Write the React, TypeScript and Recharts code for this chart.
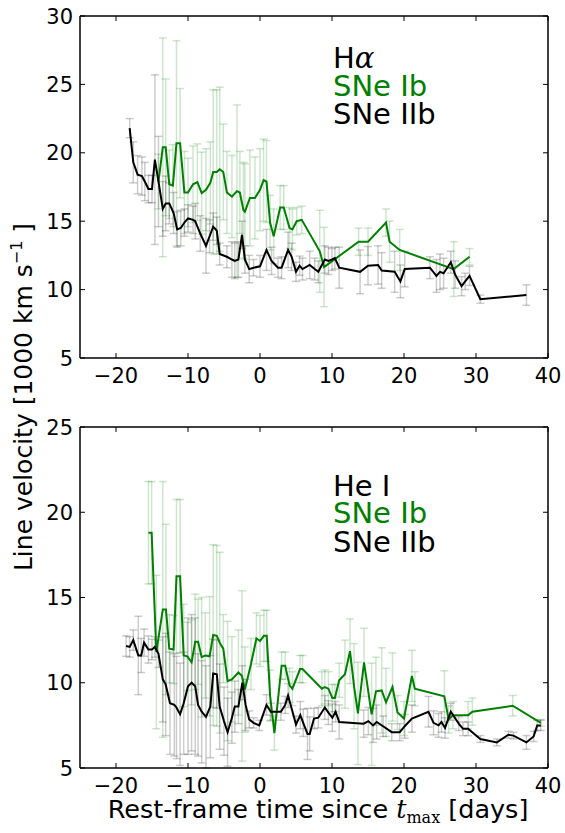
import { LineChart, Line, XAxis, YAxis, ErrorBar } from "recharts";

// [day, velocity (1000 km/s), error]
type Pt = [number, number, number];

const xTicks = [-20, -10, 0, 10, 20, 30, 40];
const haTicks = [5, 10, 15, 20, 25, 30];
const heTicks = [5, 10, 15, 20, 25];

const GREEN = "#008000";

const haIIb: Pt[] = [
  [-18.1, 21.8, 0.7], [-17.6, 19.3, 1.5], [-17.0, 18.4, 1.4], [-16.4, 18.3, 1.4], [-16.0, 17.9, 1.4],
  [-15.5, 17.35, 1.0], [-15.0, 17.35, 1.0], [-14.6, 19.5, 6.2], [-14.1, 17.9, 3.3], [-13.5, 15.9, 2.0],
  [-13.1, 16.3, 2.0], [-12.6, 16.3, 1.5], [-12.0, 15.6, 1.5], [-11.5, 14.4, 1.3], [-11.0, 14.5, 1.3],
  [-10.5, 14.9, 1.0], [-10.0, 15.2, 1.0], [-9.3, 15.1, 1.0], [-9.0, 15.0, 1.3], [-8.3, 14.1, 1.3],
  [-7.5, 13.2, 2.0], [-7.0, 13.9, 1.2], [-6.5, 14.6, 1.0], [-6.0, 14.3, 1.0], [-5.6, 12.6, 0.8],
  [-4.6, 12.4, 0.8], [-3.9, 12.2, 1.3], [-3.5, 12.1, 1.3], [-3.0, 12.2, 1.3], [-2.5, 14.0, 1.0],
  [-2.1, 12.2, 1.0], [-1.5, 11.5, 1.0], [-0.9, 11.6, 0.6], [0.0, 11.7, 0.8], [0.9, 12.9, 1.5],
  [1.6, 12.1, 1.0], [2.5, 11.6, 0.7], [3.0, 11.6, 0.8], [3.9, 12.9, 1.3], [4.4, 12.4, 1.0],
  [5.0, 11.3, 0.7], [5.5, 11.75, 0.7], [5.9, 11.5, 0.8], [6.9, 11.8, 1.0], [7.6, 11.5, 0.8],
  [8.1, 11.3, 0.8], [9.0, 12.2, 1.0], [9.5, 12.1, 1.0], [10.0, 12.2, 0.8], [10.4, 12.3, 0.8],
  [11.0, 11.6, 1.5], [13.9, 11.3, 1.6], [15.0, 11.75, 1.4], [16.4, 11.8, 1.4], [16.9, 11.4, 1.3],
  [18.7, 11.3, 1.5], [19.5, 10.6, 1.2], [20.1, 11.5, 1.3], [23.6, 11.6, 0.8], [24.5, 11.0, 1.2],
  [25.0, 11.3, 1.3], [25.5, 11.2, 1.1], [26.5, 12.0, 0.8], [27.1, 11.1, 1.0], [28.0, 10.25, 0.7],
  [28.5, 10.6, 0.6], [29.1, 11.0, 0.7], [30.6, 9.3, 0.3], [37.0, 9.6, 0.75],
];

const haIb: Pt[] = [
  [-14.1, 17.9, 2.0], [-13.5, 20.4, 8.0], [-13.1, 20.4, 5.0], [-12.6, 17.7, 2.5], [-12.1, 17.6, 3.0],
  [-11.6, 20.7, 7.5], [-11.1, 20.7, 4.0], [-10.5, 17.1, 3.0], [-10.0, 17.1, 2.5], [-9.3, 17.7, 2.8],
  [-8.7, 17.85, 2.8], [-8.1, 17.05, 3.0], [-7.5, 17.3, 3.0], [-6.9, 17.8, 3.0], [-6.5, 18.6, 6.0],
  [-6.0, 18.6, 6.0], [-5.6, 18.8, 6.0], [-5.1, 18.6, 3.5], [-4.6, 17.1, 3.0], [-3.9, 16.8, 3.0],
  [-3.2, 17.2, 6.3], [-2.8, 17.1, 3.0], [-2.3, 15.8, 3.5], [-2.1, 15.7, 3.5], [-1.4, 16.7, 3.5],
  [-0.7, 16.7, 3.0], [0.0, 17.3, 3.0], [0.5, 18.0, 3.0], [0.9, 17.9, 3.0], [1.4, 14.9, 2.0],
  [1.9, 13.9, 2.0], [2.8, 16.0, 1.6], [3.3, 16.0, 1.6], [4.1, 14.5, 1.5], [4.5, 14.4, 1.5],
  [5.1, 15.0, 1.0], [5.8, 15.1, 1.0], [8.3, 12.8, 3.0], [8.9, 11.65, 2.9], [13.7, 13.5, 1.0],
  [15.0, 13.5, 1.0], [17.5, 14.9, 1.0], [18.0, 13.5, 1.5], [19.4, 12.9, 1.5], [26.9, 11.5, 2.0],
  [29.1, 12.4, 0.6],
];

const heIIb: Pt[] = [
  [-18.6, 12.15, 0.6], [-18.1, 12.1, 0.6], [-17.6, 12.5, 0.6], [-16.9, 11.6, 2.3], [-16.5, 11.6, 1.0],
  [-16.1, 12.35, 0.8], [-15.5, 11.95, 0.8], [-15.0, 11.95, 0.6], [-14.6, 12.1, 0.6], [-14.1, 11.7, 0.8],
  [-13.5, 10.2, 2.5], [-13.1, 9.9, 3.0], [-12.5, 8.8, 3.0], [-11.9, 8.7, 3.0], [-11.6, 8.55, 3.0],
  [-11.1, 8.15, 3.0], [-10.6, 8.8, 3.0], [-10.0, 9.8, 4.0], [-9.5, 10.0, 4.0], [-9.0, 9.8, 4.0],
  [-8.6, 8.7, 3.0], [-8.1, 8.3, 3.0], [-7.5, 8.0, 3.0], [-6.9, 8.6, 3.0], [-6.5, 10.55, 2.0],
  [-6.0, 10.5, 2.0], [-5.6, 8.6, 2.5], [-5.0, 7.75, 2.0], [-4.5, 7.1, 2.0], [-3.9, 7.95, 1.5],
  [-3.5, 8.6, 1.5], [-3.0, 8.6, 1.0], [-2.45, 10.0, 1.0], [-2.0, 8.7, 1.5], [-1.5, 7.85, 0.5],
  [-0.9, 7.65, 0.3], [-0.1, 7.5, 0.3], [0.9, 8.7, 0.6], [1.5, 8.3, 0.5], [2.9, 8.3, 0.5],
  [3.5, 8.7, 0.5], [3.9, 9.25, 0.7], [5.0, 7.55, 0.5], [5.6, 8.1, 0.8], [6.0, 7.65, 0.8],
  [6.6, 7.0, 1.5], [6.9, 7.0, 1.0], [7.5, 7.9, 0.6], [8.1, 7.95, 0.6], [9.0, 8.55, 0.7],
  [9.5, 8.25, 0.7], [10.05, 7.95, 0.8], [10.5, 8.3, 0.6], [11.0, 7.7, 1.0], [14.4, 7.6, 0.8],
  [15.05, 7.75, 0.8], [15.7, 7.5, 1.0], [16.2, 7.7, 1.0], [17.1, 7.45, 0.6], [18.3, 7.1, 0.5],
  [19.4, 7.1, 0.5], [20.1, 7.45, 0.7], [21.1, 7.9, 0.8], [23.4, 8.3, 0.9], [24.1, 7.65, 0.7],
  [24.8, 7.5, 0.7], [25.2, 7.7, 0.6], [25.7, 7.35, 0.6], [26.5, 8.3, 0.5], [27.6, 7.6, 0.4],
  [28.2, 7.3, 0.4], [28.9, 7.3, 0.4], [30.6, 6.7, 0.2], [32.9, 6.5, 0.2], [34.5, 6.95, 0.2],
  [35.2, 6.9, 0.2], [37.0, 6.5, 0.4], [38.0, 6.85, 0.3], [38.5, 7.5, 0.3], [39.0, 7.5, 0.3],
];

const heIb: Pt[] = [
  [-15.5, 18.8, 3.0], [-15.05, 18.8, 3.0], [-14.4, 11.8, 4.5], [-13.5, 14.3, 7.5], [-13.06, 14.3, 5.0],
  [-12.6, 12.0, 2.0], [-12.0, 11.95, 2.0], [-11.6, 16.25, 4.5], [-11.1, 16.25, 4.5], [-10.6, 11.6, 3.0],
  [-10.1, 11.55, 2.0], [-9.5, 11.2, 2.5], [-9.0, 12.4, 2.8], [-8.6, 12.4, 2.5], [-8.1, 11.5, 3.5],
  [-7.6, 11.6, 2.5], [-7.0, 11.55, 3.5], [-6.5, 12.8, 5.3], [-6.0, 12.75, 5.3], [-5.6, 12.35, 5.3],
  [-5.1, 12.0, 2.0], [-4.5, 10.1, 3.5], [-3.9, 10.2, 2.5], [-3.0, 10.6, 2.5], [-2.5, 10.4, 5.0],
  [-2.1, 9.6, 2.5], [-1.25, 11.1, 1.5], [-0.5, 12.6, 1.5], [0.0, 12.45, 1.5], [0.55, 12.75, 1.5],
  [0.93, 12.75, 1.5], [1.4, 9.25, 1.5], [2.0, 7.05, 1.0], [3.0, 11.0, 0.8], [3.5, 11.0, 0.8],
  [4.1, 9.85, 1.0], [4.5, 9.65, 1.0], [5.56, 10.8, 0.8], [5.9, 10.8, 0.8], [8.6, 9.65, 1.0],
  [9.0, 9.75, 1.0], [9.5, 9.65, 1.0], [10.05, 9.1, 0.8], [10.4, 9.1, 0.8], [11.0, 10.15, 1.0],
  [11.8, 10.5, 2.0], [12.5, 11.85, 1.9], [13.06, 9.8, 2.5], [13.6, 8.2, 3.0], [14.45, 11.2, 2.0],
  [15.5, 8.15, 3.0], [16.1, 9.5, 2.0], [16.9, 9.55, 2.5], [17.5, 8.85, 2.0], [18.4, 9.75, 2.0],
  [19.1, 8.25, 1.0], [20.0, 7.9, 1.0], [21.1, 10.4, 1.5], [21.5, 9.65, 1.0], [25.6, 9.2, 1.5],
  [26.2, 7.85, 0.8], [26.8, 8.1, 0.8], [28.9, 8.1, 0.8], [29.5, 8.3, 0.8], [35.1, 8.65, 0.6],
  [39.0, 7.65, 0.2],
];

const toRows = (pts: Pt[]) => pts.map(([day, vel, err]) => ({ day, vel, err }));
const fmt = (v: number) => String(v).replace("-", "\u2212");

// matplotlib-style ticks: short marks pointing into the plot, labels outside
const BottomTick = ({ x, y, payload }: any) => (
  <g>
    <line x1={x} x2={x} y1={y} y2={y - 5} stroke="#000" />
    <text x={x} y={y + 25} textAnchor="middle" fontSize={21} fill="#000">
      {fmt(payload.value)}
    </text>
  </g>
);
const TopTick = ({ x, y }: any) => <line x1={x} x2={x} y1={y} y2={y + 5} stroke="#000" />;
const LeftTick = ({ x, y, payload }: any) => (
  <g>
    <line x1={x} x2={x + 5} y1={y} y2={y} stroke="#000" />
    <text x={x - 7} y={y + 7.5} textAnchor="end" fontSize={21} fill="#000">
      {payload.value}
    </text>
  </g>
);
const RightTick = ({ x, y }: any) => <line x1={x} x2={x - 5} y1={y} y2={y} stroke="#000" />;

interface PanelProps {
  top: number;
  height: number;
  ib: Pt[];
  iib: Pt[];
  yDomain: [number, number];
  yTicks: number[];
}

function Panel({ top, height, ib, iib, yDomain, yTicks }: PanelProps) {
  const ibRows = toRows(ib);
  const iibRows = toRows(iib);
  const axisCommon = {
    type: "number" as const,
    allowDataOverflow: true,
    tickLine: false,
    tickSize: 0,
    tickMargin: 0,
    interval: 0 as const,
    stroke: "#000",
    axisLine: { strokeWidth: 1.5 },
  };
  return (
    <div style={{ position: "absolute", left: 0, top }}>
      <LineChart width={565} height={height} margin={{ top: 15, right: 16, bottom: 2, left: 0 }}>
        <XAxis {...axisCommon} xAxisId="b" dataKey="day" domain={[-25, 40]} ticks={xTicks} tick={<BottomTick />} height={30} />
        <XAxis {...axisCommon} xAxisId="t" orientation="top" dataKey="day" domain={[-25, 40]} ticks={xTicks} tick={<TopTick />} height={1} />
        <YAxis {...axisCommon} yAxisId="l" domain={yDomain} ticks={yTicks} tick={<LeftTick />} width={80} />
        <YAxis {...axisCommon} yAxisId="r" orientation="right" domain={yDomain} ticks={yTicks} tick={<RightTick />} width={1} />

        {/* error bars first (on the mirrored axes, same scales), lines on top */}
        <Line data={ibRows} xAxisId="t" yAxisId="r" dataKey="vel" stroke="none" dot={false} isAnimationActive={false}>
          <ErrorBar dataKey="err" direction="y" width={4} stroke="rgba(0,128,0,0.2)" strokeWidth={1.5} isAnimationActive={false} />
        </Line>
        <Line data={iibRows} xAxisId="t" yAxisId="r" dataKey="vel" stroke="none" dot={false} isAnimationActive={false}>
          <ErrorBar dataKey="err" direction="y" width={4} stroke="rgba(0,0,0,0.2)" strokeWidth={1.5} isAnimationActive={false} />
        </Line>
        <Line data={ibRows} xAxisId="b" yAxisId="l" dataKey="vel" type="linear" stroke={GREEN} strokeWidth={2} dot={false} isAnimationActive={false} />
        <Line data={iibRows} xAxisId="b" yAxisId="l" dataKey="vel" type="linear" stroke="#000" strokeWidth={2} dot={false} isAnimationActive={false} />
      </LineChart>
    </div>
  );
}

export default function App() {
  return (
    <div
      style={{
        position: "absolute",
        left: 0,
        top: 0,
        width: 565,
        height: 833,
        background: "#fff",
        fontFamily: "'DejaVu Sans', sans-serif",
      }}
    >
      <Panel top={0} height={390} ib={haIb} iib={haIIb} yDomain={[5, 30]} yTicks={haTicks} />
      <Panel top={411} height={389} ib={heIb} iib={heIIb} yDomain={[5, 25]} yTicks={heTicks} />

      <svg width={565} height={833} style={{ position: "absolute", left: 0, top: 0, pointerEvents: "none" }}>
        <g fontSize={29}>
          <text x={333} y={68} fill="#000">
            H<tspan fontFamily="'DejaVu Serif', serif" fontStyle="italic">α</tspan>
          </text>
          <text x={333} y={96} fill={GREEN}>SNe Ib</text>
          <text x={333} y={124} fill="#000">SNe IIb</text>

          <text x={333} y={496} fill="#000">He I</text>
          <text x={333} y={523} fill={GREEN}>SNe Ib</text>
          <text x={333} y={552} fill="#000">SNe IIb</text>
        </g>

        <text transform="translate(32,397) rotate(-90)" textAnchor="middle" fontSize={25} fill="#000">
          Line velocity [1000 km s<tspan dy={-10} fontSize={16}>−1</tspan>
          <tspan dy={10}> ]</tspan>
        </text>

        <text x={318} y={818} textAnchor="middle" fontSize={25.5} fill="#000">
          Rest-frame time since <tspan fontFamily="'DejaVu Serif', serif" fontStyle="italic">t</tspan>
          <tspan fontFamily="'DejaVu Serif', serif" fontSize={16} dy={5}>max</tspan>
          <tspan dy={-5}> [days]</tspan>
        </text>
      </svg>
    </div>
  );
}
